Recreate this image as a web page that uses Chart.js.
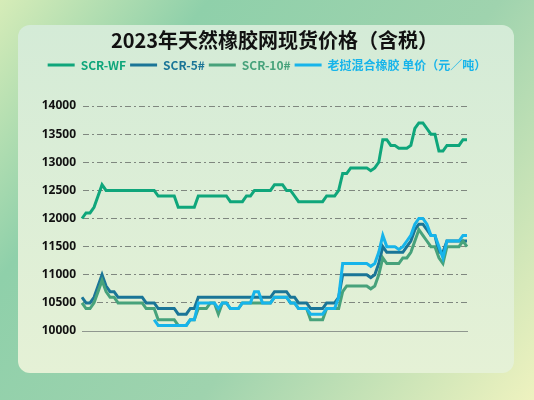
<!DOCTYPE html>
<html>
<head>
<meta charset="utf-8">
<script src="https://cdn.jsdelivr.net/npm/chart.js@4"></script>
<style>
  html, body { margin: 0; padding: 0; background: #b8dcb8; }
  #wrap { width: 534px; height: 400px; position: relative; }
</style>
</head>
<body>
<div id="wrap"><canvas id="priceChart" width="534" height="400"></canvas></div>
<script>
// 2023 天然橡胶网 现货价格（含税），单位 元/吨
const titleText = "2023年天然橡胶网现货价格（含税）";
const seriesNames = ["SCR-WF", "SCR-5#", "SCR-10#", "老挝混合橡胶 单价（元／吨）"];
const yTicks = [10000, 10500, 11000, 11500, 12000, 12500, 13000, 13500, 14000];

// 交易日（图中无 x 轴标签，只用序号）
const days = Array.from({ length: 97 }, (_, i) => String(i + 1));

const scrWF = [
  12000, 12100, 12100, 12200, 12400, 12600,
  12500, 12500, 12500, 12500, 12500, 12500, 12500, 12500, 12500, 12500, 12500, 12500, 12500,
  12400, 12400, 12400, 12400, 12400,
  12200, 12200, 12200, 12200, 12200,
  12400, 12400, 12400, 12400, 12400, 12400, 12400, 12400,
  12300, 12300, 12300, 12300,
  12400, 12400,
  12500, 12500, 12500, 12500, 12500,
  12600, 12600, 12600,
  12500, 12500,
  12400,
  12300, 12300, 12300, 12300, 12300, 12300, 12300,
  12400, 12400, 12400,
  12500,
  12800, 12800,
  12900, 12900, 12900, 12900, 12900,
  12850, 12900, 13000,
  13400, 13400,
  13300, 13300,
  13250, 13250, 13250,
  13300, 13600, 13700, 13700, 13600, 13500, 13500,
  13200, 13200,
  13300, 13300, 13300, 13300, 13400, 13400,
];

const scr5 = [
  10600, 10500, 10500, 10600, 10800, 11000, 10800, 10700, 10700,
  10600, 10600, 10600, 10600, 10600, 10600, 10600,
  10500, 10500, 10500,
  10400, 10400, 10400, 10400, 10400,
  10300, 10300, 10300,
  10400, 10400,
  10600, 10600, 10600, 10600, 10600, 10600, 10600, 10600, 10600, 10600,
  10600, 10600, 10600, 10600, 10600, 10600, 10600, 10600, 10600,
  10700, 10700, 10700, 10700,
  10600, 10600,
  10500, 10500, 10500,
  10400, 10400, 10400, 10400,
  10500, 10500, 10500,
  10600,
  11000, 11000, 11000, 11000, 11000, 11000, 11000,
  10950, 11000, 11200, 11500,
  11400, 11400, 11400, 11400, 11400,
  11500, 11600, 11800, 11900, 11900, 11800, 11700, 11700, 11400, 11400,
  11600, 11600, 11600, 11600, 11600, 11600,
];

const scr10 = [
  10500, 10400, 10400, 10500, 10700, 10900, 10700, 10600, 10600,
  10500, 10500, 10500, 10500, 10500, 10500, 10500,
  10400, 10400, 10400,
  10200, 10200, 10200, 10200, 10200,
  10100, 10100, 10100,
  10200, 10200,
  10400, 10400, 10400,
  10500, 10500,
  10300,
  10500, 10500,
  10400, 10400, 10400,
  10500, 10500, 10500, 10500, 10500, 10500, 10500, 10500,
  10600, 10600, 10600, 10600,
  10500, 10500,
  10400, 10400, 10400,
  10200, 10200, 10200, 10200,
  10400, 10400, 10400, 10400,
  10700,
  10800, 10800, 10800, 10800, 10800, 10800,
  10750, 10800, 11000, 11300,
  11200, 11200, 11200, 11200,
  11300, 11300, 11400, 11600, 11800, 11700, 11600, 11500, 11500, 11300, 11200,
  11500, 11500, 11500, 11500,
  11600, 11500,
];

const laoMixed = [
  null, null, null, null, null, null, null, null, null,
  null, null, null, null, null, null, null, null, null,
  10200,
  10100, 10100, 10100, 10100, 10100, 10100, 10100, 10100,
  10200, 10200,
  10500, 10500, 10500, 10500, 10500,
  10400,
  10500, 10500,
  10400, 10400, 10400,
  10500, 10500, 10500,
  10700, 10700,
  10500, 10500, 10500,
  10600, 10600, 10600, 10600,
  10500, 10500,
  10400, 10400, 10400,
  10300, 10300, 10300, 10300,
  10400, 10400, 10400,
  10600,
  11200, 11200, 11200, 11200, 11200, 11200, 11200,
  11150, 11200, 11400, 11700,
  11500, 11500, 11500,
  11450, 11500, 11600, 11700, 11900, 12000, 12000, 11900, 11700, 11700, 11500, 11300,
  11600, 11600, 11600, 11600,
  11700, 11700,
];

const colors = ["#0fa67b", "#1a7597", "#47a27b", "#17b4ea"];

// 背景与圆角面板
const backgroundPlugin = {
  id: "pageBackground",
  beforeDraw(chart) {
    const { ctx, width, height } = chart;
    ctx.save();
    const g = ctx.createLinearGradient(0, 0, width, height);
    g.addColorStop(0, "#d6ecb8");
    g.addColorStop(0.25, "#8fd0aa");
    g.addColorStop(0.6, "#9fd3ae");
    g.addColorStop(1, "#eef2bf");
    ctx.fillStyle = g;
    ctx.fillRect(0, 0, width, height);

    const x = 18, y = 25, w = 496, h = 348, r = 12;
    const pg = ctx.createLinearGradient(0, y, 0, y + h);
    pg.addColorStop(0, "#d4ebd7");
    pg.addColorStop(1, "#e5f1d6");
    ctx.fillStyle = pg;
    ctx.beginPath();
    ctx.moveTo(x + r, y);
    ctx.arcTo(x + w, y, x + w, y + h, r);
    ctx.arcTo(x + w, y + h, x, y + h, r);
    ctx.arcTo(x, y + h, x, y, r);
    ctx.arcTo(x, y, x + w, y, r);
    ctx.closePath();
    ctx.fill();
    ctx.restore();
  },
};

// 让图例下方留出空间，使绘图区顶部对齐 14000
const legendSpacer = {
  id: "legendSpacer",
  beforeInit(chart) {
    const legend = chart.legend;
    const fit = legend.fit;
    legend.fit = function () {
      fit.call(this);
      this.height += 25;
    };
  },
};

const makeDataset = (label, data, color) => ({
  label,
  data,
  borderColor: color,
  backgroundColor: color,
  borderWidth: 3,
  pointRadius: 0,
  tension: 0,
  fill: false,
  spanGaps: false,
});

new Chart(document.getElementById("priceChart"), {
  type: "line",
  data: {
    labels: days,
    // 后面的系列画在上层，所以反向排列，图例再反过来
    datasets: [
      makeDataset(seriesNames[3], laoMixed, colors[3]),
      makeDataset(seriesNames[2], scr10, colors[2]),
      makeDataset(seriesNames[1], scr5, colors[1]),
      makeDataset(seriesNames[0], scrWF, colors[0]),
    ],
  },
  options: {
    responsive: false,
    animation: false,
    layout: { padding: { left: 0, right: 0, top: 0, bottom: 69 } },
    plugins: {
      title: {
        display: true,
        fullSize: false,
        text: titleText,
        color: "#111",
        font: { family: "'Noto Sans CJK SC', 'Noto Sans', sans-serif", size: 20, weight: "bold" },
        padding: { top: 28, bottom: 3 },
      },
      legend: {
        display: true,
        reverse: true,
        labels: {
          usePointStyle: true,
          pointStyleWidth: 27,
          boxHeight: 12,
          padding: 4,
          font: { family: "'Noto Sans CJK SC', 'Noto Sans', sans-serif", size: 12, weight: "bold" },
          generateLabels(chart) {
            return chart.data.datasets.map((ds, i) => ({
              text: ds.label,
              fontColor: ds.borderColor,
              strokeStyle: ds.borderColor,
              fillStyle: ds.borderColor,
              lineWidth: 3,
              pointStyle: "line",
              hidden: !chart.isDatasetVisible(i),
              datasetIndex: i,
            }));
          },
        },
      },
      tooltip: { enabled: false },
    },
    scales: {
      x: {
        offset: false,
        ticks: { display: false },
        grid: { display: false, drawTicks: false },
        border: { display: true, color: "#8f978f", width: 1 },
      },
      y: {
        min: 10000,
        max: 14000,
        afterFit(scale) {
          scale.width = 82;
        },
        afterBuildTicks(scale) {
          scale.ticks = yTicks.map((v) => ({ value: v }));
        },
        ticks: {
          padding: 6,
          color: "#111",
          font: { family: "'Noto Sans', sans-serif", size: 12, weight: "bold" },
          callback: (v) => String(v),
        },
        grid: {
          drawTicks: false,
          color: (ctx) => (ctx.tick && ctx.tick.value === 10000 ? "rgba(0,0,0,0)" : "#7f877f"),
          lineWidth: 1,
        },
        border: { display: true, color: "rgba(0,0,0,0)", dash: [6, 3, 2, 3] },
      },
      // 右侧留白（只占位）
      yRight: {
        position: "right",
        display: true,
        afterFit(scale) {
          scale.width = 67;
        },
        ticks: { display: false },
        grid: { display: false, drawTicks: false },
        border: { display: false },
      },
    },
  },
  plugins: [backgroundPlugin, legendSpacer],
});
</script>
</body>
</html>
